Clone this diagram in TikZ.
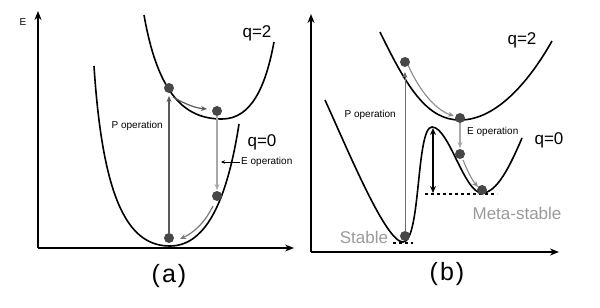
\documentclass[tikz,border=0pt]{standalone}
\usepackage{fontspec}
\setmainfont{Liberation Sans}
\usetikzlibrary{arrows.meta}
\definecolor{dotc}{HTML}{474747}
\definecolor{parr}{HTML}{5A5A5A}
\definecolor{earr}{HTML}{A8A8A8}
\definecolor{lbl}{HTML}{9A9A9A}
\tikzset{
  axis/.style={line width=1.8pt,-{Stealth[length=9pt,width=7pt]}},
  curve/.style={line width=1.6pt},
  ball/.style={circle,fill=dotc,inner sep=0pt,minimum size=10pt},
  small/.style={font=\fontsize{10}{11}\selectfont,inner sep=1pt},
  qlbl/.style={font=\fontsize{17}{18}\selectfont,inner sep=0pt},
  big/.style={font=\fontsize{25}{26}\selectfont,inner sep=0pt},
  glbl/.style={font=\fontsize{17}{18}\selectfont,text=lbl,inner sep=0pt},
  tip/.style={-{Stealth[length=6pt,width=5pt]}},
}
\begin{document}
\begin{tikzpicture}[x=1pt,y=-1pt]
\useasboundingbox (0,0) rectangle (600,308);
% ---------- panel (a)
\coordinate (aO) at (38,248);
\coordinate (aY) at (38,11);
\coordinate (aX) at (294,248);
\draw[axis] (aO) -- (aY);
\draw[axis] (aO) -- (aX);
\node[small] (aE) at (23,22) {E};
% q=2
\draw[curve] (144,15) .. controls (158,95) and (185,119) .. (222,119)
  .. controls (252,119) and (266,85) .. (274,42);
% q=0
\draw[curve] (94,66) .. controls (103,205) and (130,246) .. (170,246)
  .. controls (208,246) and (228,195) .. (239,124);
\node[ball] (a1) at (169,88) {};
\node[ball] (a2) at (217,111) {};
\node[ball] (a3) at (217,196) {};
\node[ball] (a4) at (169,238) {};
\draw[parr,line width=1.3pt,tip] (a4.north) -- (169,96);
\draw[earr,line width=1.3pt,tip] (a2.south) -- (217,190);
\draw[parr,line width=1.2pt,tip] (173,97) .. controls (185,104) and (195,108) .. (207,109);
\draw[parr!80,line width=1.2pt,tip] (213,206) .. controls (205,222) and (195,232) .. (180,239);
\node[small,anchor=east] (aP) at (164,126) {P operation};
\node[small,anchor=west] (aEo) at (240,162) {E operation};
\draw[line width=0.8pt,-{Stealth[length=4pt,width=3.5pt]}] (aEo.west) -- (221,162);
\node[qlbl] (aq2) at (257,33) {q=2};
\node[qlbl] (aq0) at (262,142) {q=0};
\node[big] (alab) at (169,276) {(\kern2pt a\kern2pt)};
% ---------- panel (b)
\coordinate (bO) at (311,252);
\coordinate (bY) at (311,14);
\coordinate (bX) at (559,252);
\draw[axis] (bO) -- (bY);
\draw[axis] (bO) -- (bX);
% q=2
\draw[curve] (380,32) .. controls (408,90) and (428,120) .. (460,120)
  .. controls (497,120) and (530,80) .. (552,41);
% q=0 double well
\draw[curve] (325,100) .. controls (350,155) and (386,242) .. (403,242)
  .. controls (421,242) and (416,127) .. (432,127)
  .. controls (449,127) and (464,193) .. (482,193)
  .. controls (497,193) and (510,166) .. (522,138);
\draw[line width=1.2pt,dashed] (393,243) -- (413,243);
\draw[line width=1.2pt,dashed] (425,194) -- (497,194);
\coordinate (bTop) at (433,128);
\coordinate (bBot) at (433,193);
\draw[line width=1.3pt,{Stealth[length=7pt,width=6pt]}-{Stealth[length=7pt,width=6pt]}] (bTop) -- (bBot);
\node[ball] (b1) at (405,62) {};
\node[ball] (b2) at (460,118) {};
\node[ball] (b3) at (460,154) {};
\node[ball] (b4) at (482,190) {};
\node[ball] (b5) at (405,236) {};
\draw[parr!90,line width=0.9pt,tip] (b5.north) -- (405,72);
\draw[earr,line width=1.3pt,tip] (b2.south) -- (460,148);
\draw[parr!70,line width=1.1pt,tip] (408,65) .. controls (420,92) and (436,110) .. (454,116);
\draw[parr!70,line width=1.1pt,tip] (463,160) .. controls (468,172) and (472,180) .. (478,187);
\node[small,anchor=east] (bP) at (397,115) {P operation};
\node[small,anchor=west] (bEo) at (466,132) {E operation};
\node[qlbl] (bq2) at (522,40) {q=2};
\node[qlbl] (bq0) at (549,140) {q=0};
\node[glbl] (bms) at (517,213) {Meta-stable};
\node[glbl] (bst) at (364,237) {Stable};
\node[big] (blab) at (447,274) {(\kern2pt b\kern2pt)};
\end{tikzpicture}
\end{document}
